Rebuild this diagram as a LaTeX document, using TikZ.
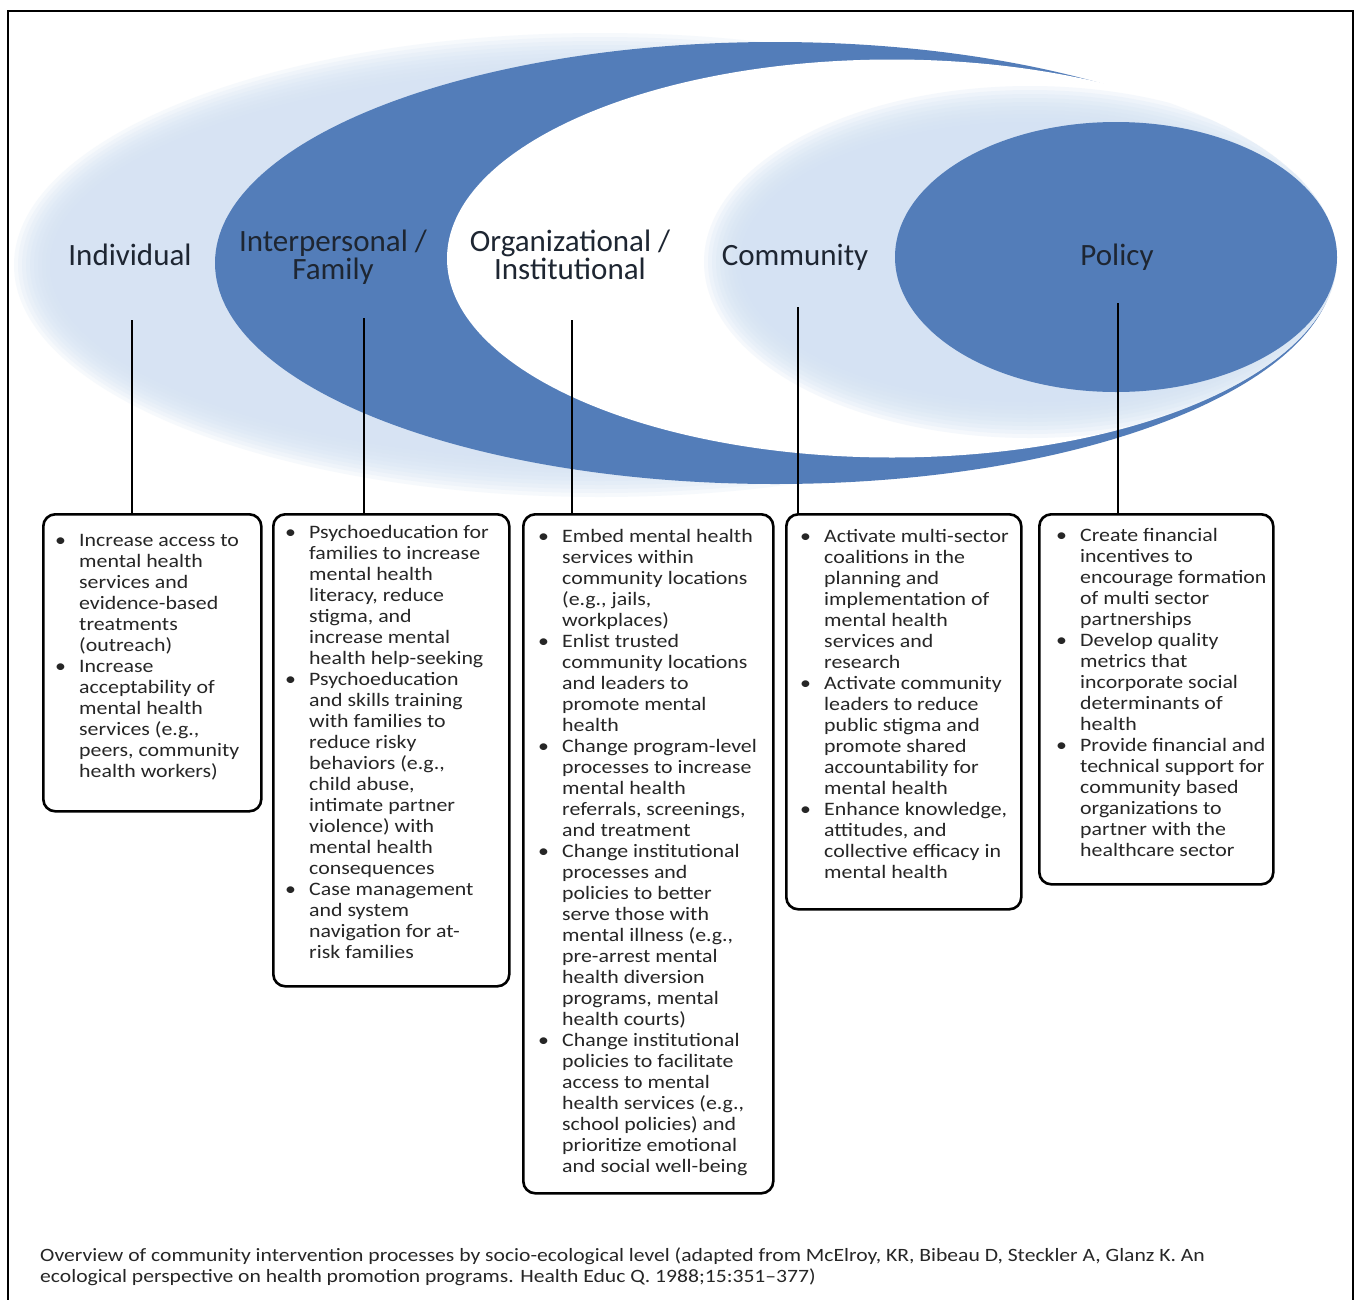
\documentclass[tikz,border=0pt]{standalone}
\usepackage{fontspec}
\setmainfont{Carlito}
\newfontfamily\boxfont{Carlito}[FakeStretch=1.15]
\definecolor{darkblu}{RGB}{83,125,185}
\definecolor{lightblu}{RGB}{212,226,243}
\definecolor{labcol}{RGB}{30,38,50}
\newcommand\bi[1]{\par\noindent\hangindent=24pt\hangafter=1\hbox to 24pt{\textbullet\hss}#1\par}
\newcommand\boxtext[1]{\begin{minipage}[t]{300pt}\parindent=0pt\parskip=0pt\lineskip=0pt#1\end{minipage}}
\tikzset{
  lab/.style={inner sep=0pt, text=labcol, font=\fontsize{31}{28}\selectfont},
  bx/.style={draw=black, line width=2.6pt, rounded corners=12pt, anchor=north west, inner sep=0pt},
  btxt/.style={anchor=base west, inner sep=0pt, text=black!85, font=\boxfont\fontsize{19}{21}\selectfont},
  captxt/.style={anchor=base west, inner sep=0pt, text=black!85, align=left, font=\boxfont\fontsize{18.8}{21}\selectfont},
  conn/.style={draw=black, line width=2.8pt},
}
\begin{document}
\begin{tikzpicture}[x=1pt,y=-1pt]
\useasboundingbox (0,0) rectangle (1355,1299);
\fill[white] (0,0) rectangle (1355,1299);
% Individual (soft light ellipse)
\foreach \i in {0,...,9}
  \fill[lightblu, fill opacity=0.2] (600,265) ellipse [x radius={586pt-4pt*\i}, y radius={232pt-4pt*\i}];
% Interpersonal / Family (dark ellipse)
\fill[darkblu] (775,263) ellipse [x radius=560pt, y radius=221pt];
% Organizational / Institutional (white ellipse)
\fill[white] (892,258.5) ellipse [x radius=445pt, y radius=199pt];
% Community (soft light ellipse, inside the white one)
\begin{scope}
  \clip (892,258.5) ellipse [x radius=445pt, y radius=199pt];
  \foreach \i in {0,...,9}
    \fill[lightblu, fill opacity=0.22] (1030,262) ellipse [x radius={326pt-4pt*\i}, y radius={176pt-4pt*\i}];
\end{scope}
% Policy (dark ellipse)
\fill[darkblu] (1116,257) ellipse [x radius=221pt, y radius=135pt];

% labels
\node[lab, anchor=base] (n1) at (130,265) {Individual};
\node[lab, anchor=north, align=center] (n2) at (333,230) {Interpersonal /\\Family};
\node[lab, anchor=north, align=center] (n3) at (570,230) {Organizational /\\Institutional};
\node[lab, anchor=base] (n4) at (795,265) {Community};
\node[lab, anchor=base] (n5) at (1117,265) {Policy};

% boxes
\node[bx, minimum width=218pt, minimum height=297pt] (b1) at (42,513) {};
\node[bx, minimum width=236pt, minimum height=472pt] (b2) at (272,513) {};
\node[bx, minimum width=250pt, minimum height=679pt] (b3) at (522,513) {};
\node[bx, minimum width=235pt, minimum height=395pt] (b4) at (785,513) {};
\node[bx, minimum width=234pt, minimum height=370pt] (b5) at (1038,513) {};

% connectors
\coordinate (c1) at (132,320);
\coordinate (c2) at (364,318);
\coordinate (c3) at (572,320);
\coordinate (c4) at (798,307);
\coordinate (c5) at (1118,303);
\draw[conn] (c1) -- (c1 |- b1.north);
\draw[conn] (c2) -- (c2 |- b2.north);
\draw[conn] (c3) -- (c3 |- b3.north);
\draw[conn] (c4) -- (c4 |- b4.north);
\draw[conn] (c5) -- (c5 |- b5.north);

% box texts
\node[btxt] (t1) at ([shift={(13,33)}]b1.north west) {\boxtext{%
\bi{Increase access to\\mental health\\services and\\evidence-based\\treatments\\(outreach)}
\bi{Increase\\acceptability of\\mental health\\services (e.g.,\\peers, community\\health workers)}}};
\node[btxt] (t2) at ([shift={(13,25)}]b2.north west) {\boxtext{%
\bi{Psychoeducation for\\families to increase\\mental health\\literacy, reduce\\stigma, and\\increase mental\\health help-seeking}
\bi{Psychoeducation\\and skills training\\with families to\\reduce risky\\behaviors (e.g.,\\child abuse,\\intimate partner\\violence) with\\mental health\\consequences}
\bi{Case management\\and system\\navigation for at-\\risk families}}};
\node[btxt] (t3) at ([shift={(16,29)}]b3.north west) {\boxtext{%
\bi{Embed mental health\\services within\\community locations\\(e.g., jails,\\workplaces)}
\bi{Enlist trusted\\community locations\\and leaders to\\promote mental\\health}
\bi{Change program-level\\processes to increase\\mental health\\referrals, screenings,\\and treatment}
\bi{Change institutional\\processes and\\policies to better\\serve those with\\mental illness (e.g.,\\pre-arrest mental\\health diversion\\programs, mental\\health courts)}
\bi{Change institutional\\policies to facilitate\\access to mental\\health services (e.g.,\\school policies) and\\prioritize emotional\\and social well-being}}};
\node[btxt] (t4) at ([shift={(15,29)}]b4.north west) {\boxtext{%
\bi{Activate multi-sector\\coalitions in the\\planning and\\implementation of\\mental health\\services and\\research}
\bi{Activate community\\leaders to reduce\\public stigma and\\promote shared\\accountability for\\mental health}
\bi{Enhance knowledge,\\attitudes, and\\collective efficacy in\\mental health}}};
\node[btxt] (t5) at ([shift={(18,28)}]b5.north west) {\boxtext{%
\bi{Create financial\\incentives to\\encourage formation\\of multi sector\\partnerships}
\bi{Develop quality\\metrics that\\incorporate social\\determinants of\\health}
\bi{Provide financial and\\technical support for\\community based\\organizations to\\partner with the\\healthcare sector}}};

% caption
\node[captxt] (cap) at (40,1282) {Overview of community intervention processes by socio-ecological level (adapted from McElroy, KR, Bibeau D, Steckler A, Glanz K. An\\ecological perspective on health promotion programs. Health Educ Q. 1988;15:351–377)};

% frame
\draw[line width=1.8pt] (8,1310) -- (8,11) -- (1353,11) -- (1353,1310);
\end{tikzpicture}
\end{document}
